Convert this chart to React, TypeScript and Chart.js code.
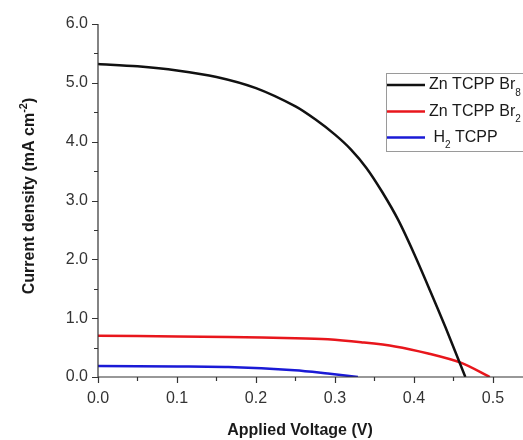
import React, { useEffect, useRef } from "react";
import { Chart, registerables } from "chart.js";

Chart.register(...registerables);

// ---- data ----
const BR8_V = [0, 0.05, 0.1, 0.15, 0.2, 0.25, 0.275, 0.3, 0.32, 0.34, 0.36, 0.38, 0.4, 0.42, 0.44, 0.465];
const BR8_J = [5.32, 5.28, 5.21, 5.1, 4.91, 4.6, 4.38, 4.12, 3.87, 3.55, 3.14, 2.67, 2.1, 1.48, 0.84, 0.0];

const BR2_V = [0, 0.1, 0.165, 0.25, 0.291, 0.333, 0.376, 0.418, 0.46, 0.496];
const BR2_J = [0.7, 0.69, 0.68, 0.66, 0.64, 0.59, 0.52, 0.4, 0.24, 0.0];

const H2_V = [0, 0.1, 0.165, 0.249, 0.291, 0.329];
const H2_J = [0.187, 0.18, 0.17, 0.114, 0.058, 0.0];

const X_MAJOR = [0, 0.1, 0.2, 0.3, 0.4, 0.5];
const X_MINOR = [0.05, 0.15, 0.25, 0.35, 0.45];
const Y_MAJOR = [0, 1, 2, 3, 4, 5, 6];
const Y_MINOR = [0.5, 1.5, 2.5, 3.5, 4.5, 5.5];

const SERIES_NAMES = ["Zn TCPP Br8", "Zn TCPP Br2", "H2 TCPP"];
// legend label pieces: [text, isSubscript]
const LEGEND_PARTS: [string, boolean][][] = [
  [["Zn TCPP Br", false], ["8", true]],
  [["Zn TCPP Br", false], ["2", true]],
  [[" H", false], ["2", true], [" TCPP", false]],
];
const COLORS = ["#111111", "#e8161c", "#1a1ad6"];

const X_TITLE = "Applied Voltage (V)";
const Y_TITLE_MAIN = "Current density (mA cm";
const Y_TITLE_SUP = "-2";
const Y_TITLE_END = ")";

const FONT = "'Liberation Sans', Arial, sans-serif";
const AXIS_COLOR = "#333333";

const toPts = (xs: number[], ys: number[]) => xs.map((x, i) => ({ x, y: ys[i] }));

const decorPlugin = {
  id: "decor",
  afterDraw(chart: any) {
    const ctx = chart.ctx as CanvasRenderingContext2D;
    const { left, right, top, bottom } = chart.chartArea;
    const xs = chart.scales.x;
    const ys = chart.scales.y;
    ctx.save();
    ctx.strokeStyle = AXIS_COLOR;
    ctx.lineWidth = 1.2;
    // axes
    ctx.beginPath();
    ctx.moveTo(left, top);
    ctx.lineTo(left, bottom);
    ctx.moveTo(left, bottom);
    ctx.lineTo(right + 5, bottom);
    ctx.stroke();
    // ticks
    ctx.beginPath();
    X_MAJOR.forEach((v) => {
      const p = Math.round(xs.getPixelForValue(v)) + 0.5;
      ctx.moveTo(p, bottom);
      ctx.lineTo(p, bottom + 6);
    });
    X_MINOR.forEach((v) => {
      const p = Math.round(xs.getPixelForValue(v)) + 0.5;
      ctx.moveTo(p, bottom);
      ctx.lineTo(p, bottom + 4);
    });
    Y_MAJOR.forEach((v) => {
      const p = Math.round(ys.getPixelForValue(v)) + 0.5;
      ctx.moveTo(left, p);
      ctx.lineTo(left - 6, p);
    });
    Y_MINOR.forEach((v) => {
      const p = Math.round(ys.getPixelForValue(v)) + 0.5;
      ctx.moveTo(left, p);
      ctx.lineTo(left - 4, p);
    });
    ctx.stroke();

    // x title
    ctx.fillStyle = "#1a1a1a";
    ctx.font = `bold 16px ${FONT}`;
    ctx.textAlign = "center";
    ctx.textBaseline = "middle";
    ctx.fillText(X_TITLE, 300, 431);

    // y title (rotated)
    ctx.save();
    ctx.translate(30, 196);
    ctx.rotate(-Math.PI / 2);
    ctx.textAlign = "left";
    ctx.textBaseline = "middle";
    const mainF = `bold 16px ${FONT}`;
    const supF = `bold 11px ${FONT}`;
    ctx.font = mainF;
    const w1 = ctx.measureText(Y_TITLE_MAIN).width;
    const w3 = ctx.measureText(Y_TITLE_END).width;
    ctx.font = supF;
    const w2 = ctx.measureText(Y_TITLE_SUP).width;
    let x0 = -(w1 + w2 + w3) / 2;
    ctx.font = mainF;
    ctx.fillText(Y_TITLE_MAIN, x0, 0);
    x0 += w1;
    ctx.font = supF;
    ctx.fillText(Y_TITLE_SUP, x0, -6);
    x0 += w2;
    ctx.font = mainF;
    ctx.fillText(Y_TITLE_END, x0, 0);
    ctx.restore();

    // legend box
    const bx = 386, by = 73, bw = 150, bh = 78;
    ctx.strokeStyle = "#9a9a9a";
    ctx.lineWidth = 1;
    ctx.strokeRect(bx + 0.5, by + 0.5, bw, bh);
    const rows = [85, 111.5, 137.5];
    LEGEND_PARTS.forEach((parts, i) => {
      const y = rows[i];
      ctx.strokeStyle = COLORS[i];
      ctx.lineWidth = 2.5;
      ctx.beginPath();
      ctx.moveTo(387, y);
      ctx.lineTo(425, y);
      ctx.stroke();
      let tx = 429;
      ctx.fillStyle = "#1a1a1a";
      ctx.textAlign = "left";
      ctx.textBaseline = "middle";
      parts.forEach(([t, sub]) => {
        ctx.font = sub ? `10px ${FONT}` : `16px ${FONT}`;
        ctx.fillText(t, tx, sub ? y + 8 : y);
        tx += ctx.measureText(t).width;
      });
    });
    ctx.restore();
  },
};

export default function App() {
  const ref = useRef<HTMLCanvasElement>(null);
  useEffect(() => {
    document.body.style.margin = "0";
    const chart = new Chart(ref.current!, {
      type: "line",
      data: {
        datasets: [
          { label: SERIES_NAMES[0], data: toPts(BR8_V, BR8_J) },
          { label: SERIES_NAMES[1], data: toPts(BR2_V, BR2_J) },
          { label: SERIES_NAMES[2], data: toPts(H2_V, H2_J) },
        ].map((d, i) => ({
          ...d,
          borderColor: COLORS[i],
          backgroundColor: COLORS[i],
          borderWidth: 2.5,
          pointRadius: 0,
          fill: false,
          tension: 0.3,
        })),
      },
      options: {
        responsive: false,
        animation: false,
        layout: { padding: { top: 24, left: 0, right: 0, bottom: 0 } },
        plugins: { legend: { display: false }, tooltip: { enabled: false } },
        scales: {
          x: {
            type: "linear",
            min: 0,
            max: 0.538,
            grid: { display: false, drawTicks: false },
            border: { display: false },
            afterBuildTicks: (s: any) => {
              s.ticks = X_MAJOR.map((v) => ({ value: v }));
            },
            afterFit: (s: any) => {
              s.height = 63;
            },
            ticks: {
              padding: 12,
              color: AXIS_COLOR,
              font: { family: FONT, size: 16 },
              maxRotation: 0,
              callback: (v: any) => Number(v).toFixed(1),
            },
          },
          y: {
            type: "linear",
            min: 0,
            max: 6,
            grid: { display: false, drawTicks: false },
            border: { display: false },
            afterBuildTicks: (s: any) => {
              s.ticks = Y_MAJOR.map((v) => ({ value: v }));
            },
            afterFit: (s: any) => {
              s.width = 98;
            },
            ticks: {
              padding: 10,
              color: AXIS_COLOR,
              font: { family: FONT, size: 16 },
              callback: (v: any) => Number(v).toFixed(1),
            },
          },
        },
      },
      plugins: [decorPlugin],
    });
    return () => chart.destroy();
  }, []);
  return <canvas ref={ref} width={523} height={440} style={{ display: "block" }} />;
}
